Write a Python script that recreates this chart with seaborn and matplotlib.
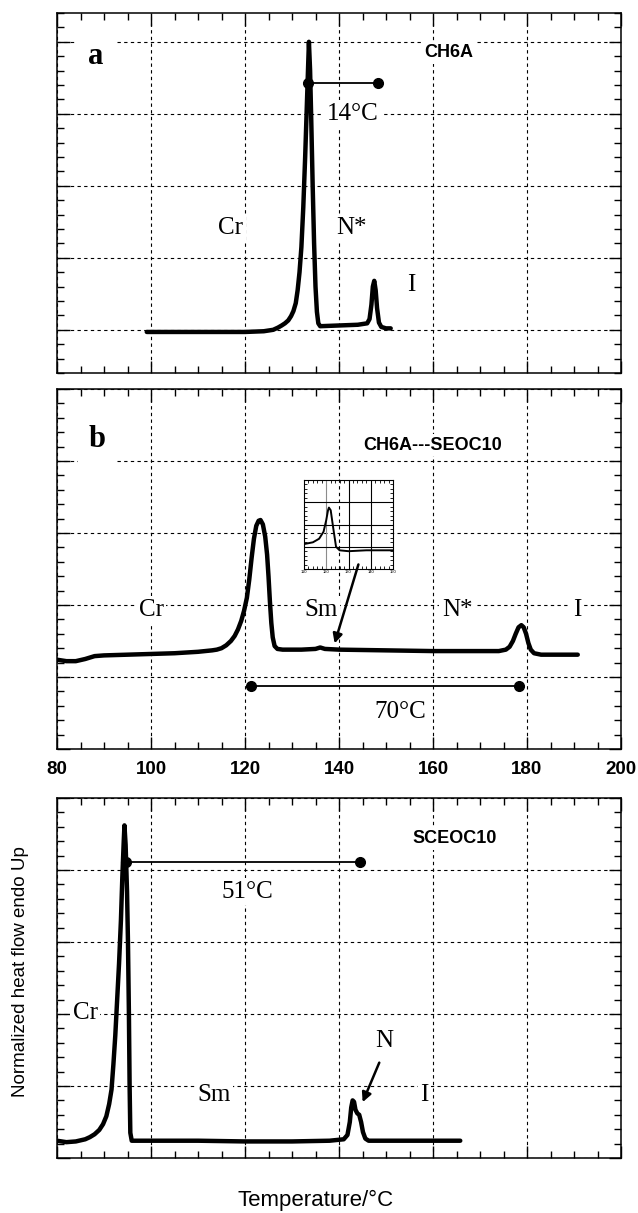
import numpy as np
import pandas as pd
import seaborn as sns
import matplotlib
matplotlib.use("Agg")
import matplotlib.pyplot as plt
from matplotlib.ticker import MultipleLocator

# ---------------- data ----------------
# Panel a: CH6A
a_temp = [99.1, 105, 110, 115, 120, 124, 125, 126, 127, 127.8, 128.5, 129.2, 129.8, 130.3,
          130.8, 131.2, 131.6, 132.0, 132.4, 132.8, 133.1, 133.4, 133.6, 133.85, 134.1, 134.4,
          134.7, 135.0, 135.3, 135.6, 136.0, 140, 144, 146, 146.5, 146.9, 147.2, 147.5,
          147.8, 148.1, 148.5, 149.0, 150, 151]
a_flow = [-0.03, -0.03, -0.03, -0.03, -0.03, -0.02, -0.01, 0.0, 0.03, 0.06, 0.09, 0.13, 0.19,
          0.26, 0.37, 0.55, 0.8, 1.15, 1.7, 2.4, 3.0, 3.6, 4.0, 3.6, 2.9, 2.0,
          1.2, 0.6, 0.25, 0.09, 0.05, 0.06, 0.07, 0.09, 0.15, 0.35, 0.6, 0.68,
          0.55, 0.3, 0.1, 0.04, 0.02, 0.02]

# Panel b: CH6A---SEOC10
b_temp = [80, 82, 84, 86, 88, 90, 95, 100, 105, 110, 113, 114, 115, 116, 117, 117.8, 118.5,
          119.2, 119.8, 120.4, 120.9, 121.4, 121.9, 122.4, 122.9, 123.3, 123.8, 124.3, 124.7,
          125.0, 125.3, 125.6, 125.9, 126.3, 126.9, 128, 132, 135, 136, 137, 140, 150, 160,
          170, 174, 175.5, 176.3, 177.0, 177.6, 178.2, 178.8, 179.3, 179.8, 180.3, 180.8,
          181.5, 183, 190.8]
b_flow = [0.24, 0.22, 0.22, 0.25, 0.29, 0.30, 0.31, 0.32, 0.33, 0.35, 0.37, 0.38, 0.40, 0.44,
          0.50, 0.57, 0.66, 0.78, 0.92, 1.10, 1.35, 1.65, 1.92, 2.10, 2.17, 2.18, 2.12, 1.95,
          1.70, 1.40, 1.05, 0.75, 0.55, 0.43, 0.39, 0.38, 0.38, 0.39, 0.41, 0.39, 0.38, 0.37,
          0.36, 0.36, 0.36, 0.38, 0.42, 0.50, 0.60, 0.69, 0.72, 0.69, 0.60, 0.47, 0.38,
          0.33, 0.31, 0.31]

# Inset of panel b
inset_temp = [110, 114, 116.8, 118.8, 120, 120.8, 121.2, 122, 123.2, 124.4, 126, 130, 138, 150]
inset_flow = [1.12, 1.2, 1.36, 1.68, 2.2, 2.64, 2.76, 2.64, 1.8, 1.0, 0.84, 0.80, 0.84, 0.84]

# Panel c: SCEOC10
c_temp = [80, 82, 84, 86, 87, 88, 89, 89.8, 90.5, 91.1, 91.6, 92.0, 92.4, 92.8, 93.2, 93.6,
          93.9, 94.2, 94.35, 94.6, 94.9, 95.1, 95.3, 95.45, 95.6, 95.9, 100, 110, 120, 130,
          138, 141, 141.8, 142.3, 142.6, 142.9, 143.2, 143.5, 143.9, 144.3, 144.7, 145.1,
          145.6, 146.3, 150, 160, 165.8]
c_flow = [-0.76, -0.78, -0.77, -0.74, -0.71, -0.67, -0.61, -0.53, -0.42, -0.25, -0.05, 0.3,
          0.7, 1.2, 1.7, 2.3, 2.9, 3.4, 3.62, 3.35, 2.7, 2.0, 1.0, 0.0, -0.65, -0.76, -0.76,
          -0.76, -0.77, -0.77, -0.76, -0.74, -0.68, -0.5, -0.3, -0.2, -0.22, -0.33, -0.38,
          -0.4, -0.5, -0.64, -0.73, -0.76, -0.76, -0.76, -0.76]

# range bars (start, end, level)
a_range = [133.5, 148.4, 3.43]
b_range = [121.2, 178.2, -0.12]
c_range = [94.6, 144.5, 3.11]

x_ticks = [80, 100, 120, 140, 160, 180, 200]

# ---------------- styling ----------------
sns.set_style("ticks")
plt.rcParams['font.family'] = ['Liberation Sans', 'DejaVu Sans']
plt.rcParams['text.color'] = 'black'
plt.rcParams['axes.labelcolor'] = 'black'
plt.rcParams['xtick.color'] = 'black'
plt.rcParams['ytick.color'] = 'black'
SERIF = ['Liberation Serif', 'DejaVu Serif']
SANS = ['Liberation Sans', 'DejaVu Sans']

W, H = 638, 1213
fig = plt.figure(figsize=(W / 100, H / 100), dpi=100)


def frac_box(x0, y0, x1, y1):
    return [x0 / W, 1 - y1 / H, (x1 - x0) / W, (y1 - y0) / H]


ax_a = fig.add_axes(frac_box(57, 13, 621, 373))
ax_b = fig.add_axes(frac_box(57, 389, 621, 749))
ax_c = fig.add_axes(frac_box(57, 798, 621, 1158))

lims = {ax_a: (-0.6, 4.4), ax_b: (-1, 4), ax_c: (-1, 4)}

for ax in (ax_a, ax_b, ax_c):
    ax.set_xlim(80, 200)
    ax.set_ylim(*lims[ax])
    ax.xaxis.set_major_locator(MultipleLocator(20))
    ax.xaxis.set_minor_locator(MultipleLocator(5))
    ax.yaxis.set_major_locator(MultipleLocator(1))
    ax.yaxis.set_minor_locator(MultipleLocator(0.2))
    ax.tick_params(which='both', direction='in', top=True, right=True, color='black',
                   width=1.0, labelcolor='black')
    ax.tick_params(which='major', length=9)
    ax.tick_params(which='minor', length=5)
    ax.set_yticklabels([])
    ax.grid(True, which='major', color='black', lw=0.8, ls=(0, (3, 3)))
    for s in ax.spines.values():
        s.set_color('black')
        s.set_linewidth(1.1)
    ax.set_xlabel('')
    ax.set_ylabel('')

ax_a.set_xticklabels([])
ax_c.set_xticklabels([])
ax_b.set_xticks(x_ticks)
ax_b.set_xticklabels([str(t) for t in x_ticks], fontsize=13.5, fontweight='bold', family=SANS,
                     color='black')
ax_b.tick_params(axis='x', which='major', pad=9)
ax_b.set_xlim(80, 200)

line_kw = dict(color='black', linewidth=3.2, sort=False, estimator=None, legend=False)
sns.lineplot(x=a_temp, y=a_flow, ax=ax_a, zorder=5, **line_kw)
sns.lineplot(x=b_temp, y=b_flow, ax=ax_b, zorder=5, **line_kw)
sns.lineplot(x=c_temp, y=c_flow, ax=ax_c, zorder=5, **line_kw)


def range_bar(ax, r):
    ax.plot([r[0], r[1]], [r[2], r[2]], color='black', lw=1.3, zorder=6)
    ax.plot([r[0], r[1]], [r[2], r[2]], 'o', color='black', ms=7, zorder=6)


range_bar(ax_a, a_range)
range_bar(ax_b, b_range)
range_bar(ax_c, c_range)

wb = dict(facecolor='white', edgecolor='none', pad=2)
st = dict(fontsize=18, family=SERIF, ha='center', va='center', zorder=4, bbox=wb,
          color='black')
bold_st = dict(fontsize=13, fontweight='bold', family=SANS, ha='center', va='center',
               zorder=4, bbox=wb, color='black')
let_st = dict(fontsize=22, fontweight='bold', family=SERIF, ha='center', va='center',
              zorder=4, color='black',
              bbox=dict(facecolor='white', edgecolor='none', pad=8))

# Panel a texts
ax_a.text(88.3, 3.8, 'a', **let_st)
ax_a.text(163.4, 3.85, 'CH6A', **bold_st)
ax_a.text(143.0, 3.0, '14°C', **st)
ax_a.text(117.0, 1.42, 'Cr', **st)
ax_a.text(142.6, 1.42, 'N*', **st)
ax_a.text(155.3, 0.62, 'I', **st)

# Panel b texts
ax_b.text(88.6, 3.3, 'b', **let_st)
ax_b.text(159.9, 3.22, 'CH6A---SEOC10', **bold_st)
ax_b.text(100.0, 0.93, 'Cr', **st)
ax_b.text(136.1, 0.93, 'Sm', **st)
ax_b.text(165.1, 0.93, 'N*', **st)
ax_b.text(190.6, 0.93, 'I', **st)
ax_b.text(153.0, -0.48, '70°C', **st)
ax_b.annotate('', xy=(138.9, 0.43), xytext=(144.3, 1.6),
              arrowprops=dict(arrowstyle='-|>', color='black', lw=1.8, mutation_scale=14),
              zorder=6)

# Panel c texts
ax_c.text(164.6, 3.44, 'SCEOC10', **bold_st)
ax_c.text(120.5, 2.7, '51°C', **st)
ax_c.text(86.0, 1.01, 'Cr', **st)
ax_c.text(113.4, -0.13, 'Sm', **st)
ax_c.text(158.2, -0.13, 'I', **st)
ax_c.text(149.7, 0.62, 'N', **st)
ax_c.annotate('', xy=(144.8, -0.26), xytext=(148.8, 0.36),
              arrowprops=dict(arrowstyle='-|>', color='black', lw=1.8, mutation_scale=14),
              zorder=6)

# Inset
ax_in = fig.add_axes(frac_box(304, 480, 393, 569))
ax_in.set_facecolor('none')
ax_in.set_xlim(110, 150)
ax_in.set_ylim(0, 4)
for xv in [120, 130, 140]:
    ax_in.axvline(xv, color='0.55' if xv == 120 else 'black', lw=0.8, zorder=1)
for yv in [1, 2, 3]:
    ax_in.axhline(yv, color='black', lw=0.8, zorder=1)
sns.lineplot(x=inset_temp, y=inset_flow, ax=ax_in, color='black', linewidth=1.4,
             sort=False, estimator=None, legend=False, zorder=3)
ax_in.xaxis.set_major_locator(MultipleLocator(10))
ax_in.xaxis.set_minor_locator(MultipleLocator(2))
ax_in.yaxis.set_major_locator(MultipleLocator(1))
ax_in.yaxis.set_minor_locator(MultipleLocator(0.2))
ax_in.tick_params(which='both', direction='in', top=True, right=True, length=2, width=0.6,
                  labelsize=3, pad=1, color='black', labelcolor='black')
ax_in.set_yticklabels([])
ax_in.set_xticks([110, 120, 130, 140, 150])
ax_in.set_xticklabels(['110', '120', '130', '140', '150'], fontsize=3)
for s in ax_in.spines.values():
    s.set_linewidth(0.8)
    s.set_color('black')
ax_in.set_xlabel('')
ax_in.set_ylabel('')

# Axis titles
fig.text(21 / W, 1 - 972 / H, 'Normalized heat flow endo Up', rotation=90, fontsize=13.5,
         family=SANS, ha='center', va='center', color='black')
fig.text(316 / W, 1 - 1200 / H, 'Temperature/°C', fontsize=16, family=SANS, ha='center',
         va='center', color='black')

fig.savefig('out.png', dpi=100)
